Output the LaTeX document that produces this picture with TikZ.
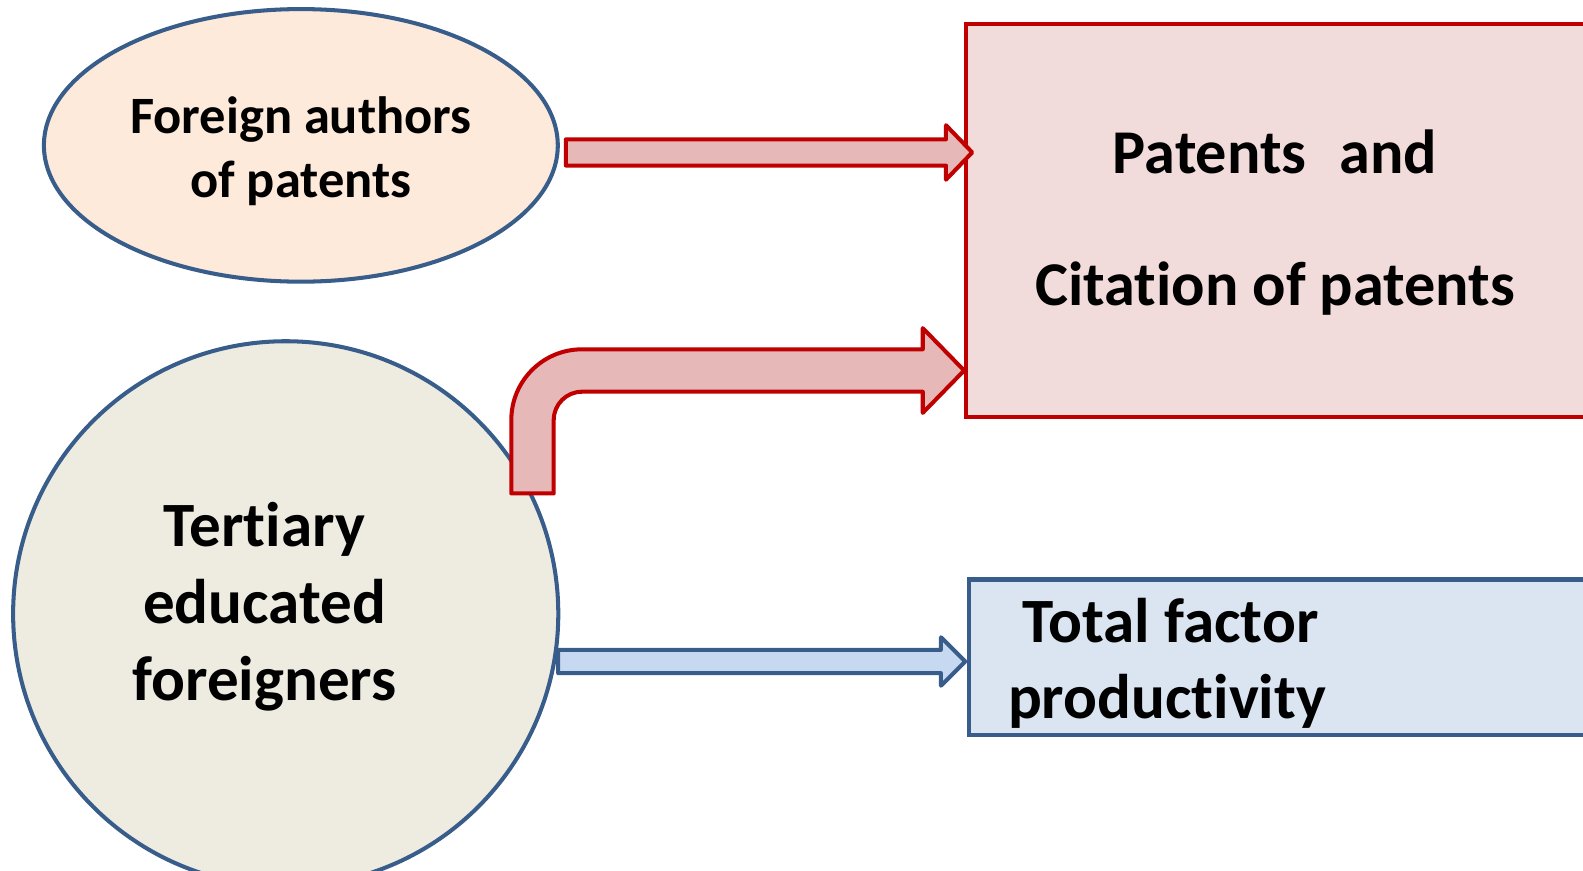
\documentclass[tikz,border=0pt]{standalone}
\usepackage{fontspec}
\setmainfont{Carlito}[Ligatures=NoCommon]
\usetikzlibrary{shapes.geometric,calc}

\definecolor{bluebord}{HTML}{385D8A}
\definecolor{redbord}{HTML}{C00000}
\definecolor{peach}{HTML}{FDEADA}
\definecolor{tanfill}{HTML}{EEECE1}
\definecolor{pinkfill}{HTML}{F2DCDB}
\definecolor{pinkarrow}{HTML}{E6B9B8}
\definecolor{lightblue}{HTML}{DBE5F1}
\definecolor{bluearrowfill}{HTML}{C6D9F1}

\tikzset{
  oval/.style={ellipse, draw=bluebord, fill=peach, line width=4pt, minimum width=509pt, minimum height=270pt},
  disc/.style={circle, draw=bluebord, fill=tanfill, line width=4pt, minimum size=540pt},
  patbox/.style={rectangle, draw=redbord, fill=pinkfill, line width=4pt, minimum width=663pt, minimum height=389pt},
  tfpbox/.style={rectangle, draw=bluebord, fill=lightblue, line width=4pt, minimum width=660pt, minimum height=154pt},
  smalltext/.style={align=center, font=\bfseries\fontsize{52}{63}\selectfont},
  bigtext/.style={font=\bfseries\fontsize{62.5}{76}\selectfont},
  redblock/.style={draw=redbord, fill=pinkarrow, line width=4pt, line join=round},
  blueblock/.style={draw=bluebord, fill=bluearrowfill, line width=4pt, line join=round}
}

\begin{document}
\begin{tikzpicture}[x=1pt,y=-1pt]

\useasboundingbox (0,0) rectangle (1568,862);
\clip (0,0) rectangle (1568,862);

\node[oval] (foreign) at (298,144) {};
\node[smalltext] (foreignlabel) at ([yshift=-6]foreign.center) {Foreign authors\\of patents};
\node[disc] (tert) at (283,608) {};
\node[bigtext, align=center] (tertlabel) at ([shift={(-21,-7)}]tert.center) {Tertiary\\educated\\foreigners};

\node[patbox] (patents) at (1288.5,218.5) {};
\node[bigtext, align=center, font=\bfseries\fontsize{61.7}{130}\selectfont] (patlabel) at ([xshift=308,yshift=-2]patents.west) {Patents\hspace{33pt}and\\Citation of patents};

\node[tfpbox] (tfp) at (1290,651) {};
\node[bigtext, align=left, anchor=west] (tfplabel) at ([xshift=37,yshift=-6]tfp.west) {~Total factor\\productivity};

% foreign authors -> patents
\draw[redblock] let \p1=([shift={(6,7)}]foreign.east), \p2=([xshift=8]patents.west) in
  (\x1,\y1+13pt) -- (\x2-26pt,\y1+13pt) -- (\x2-26pt,\y1+27pt) -- (\x2,\y1)
  -- (\x2-26pt,\y1-27pt) -- (\x2-26pt,\y1-13pt) -- (\x1,\y1-13pt) -- cycle;

% tertiary educated -> patents (bent)
\draw[redblock] let \p1=(tert.26), \p2=([yshift=48]patents.south west) in
  (\x1-21pt,\y1) -- (\x1-21pt,\y2-49pt) arc[start angle=180, end angle=90, radius=70pt]
  -- (\x2-41pt,\y2+21pt) -- (\x2-41pt,\y2+42pt) -- (\x2,\y2) -- (\x2-41pt,\y2-42pt)
  -- (\x2-41pt,\y2-21pt) -- (\x1+49pt,\y2-21pt) arc[start angle=90, end angle=180, radius=28pt]
  -- (\x1+21pt,\y1) -- cycle;

% tertiary educated -> total factor productivity
\draw[blueblock] let \p1=([xshift=2]tert.-10), \p2=([xshift=-2]tfp.west) in
  (\x1,\y1+11.5pt) -- (\x2-24pt,\y1+11.5pt) -- (\x2-24pt,\y1+24pt) -- (\x2,\y1)
  -- (\x2-24pt,\y1-24pt) -- (\x2-24pt,\y1-11.5pt) -- (\x1,\y1-11.5pt) -- cycle;

\end{tikzpicture}
\end{document}
